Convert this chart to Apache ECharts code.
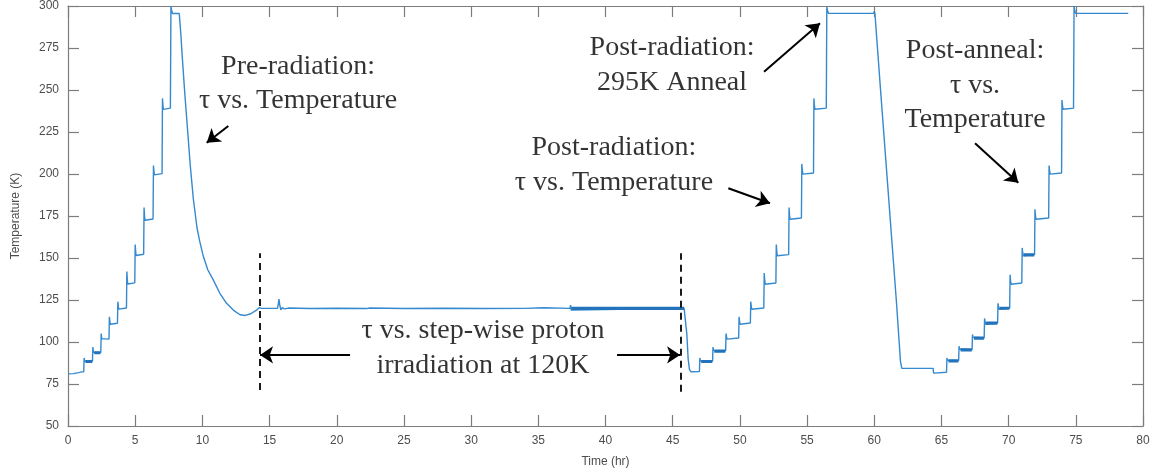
<!DOCTYPE html>
<html>
<head>
<meta charset="utf-8">
<title>Temperature (K) vs Time (hr)</title>
<script src="https://cdn.jsdelivr.net/npm/echarts@6/dist/echarts.min.js"></script>
<style>
  html, body { margin: 0; padding: 0; background: #ffffff; }
  #chart { width: 1158px; height: 473px; }
</style>
</head>
<body>
<div id="chart"></div>
<script>
// Cryostat temperature log, [time (hr), temperature (K)]

// Pre-radiation: tau vs. temperature steps, then cool-down to 120 K
const preRadiation = [
  [0.00, 81.0], [0.40, 81.2], [0.80, 81.8], [1.00, 82.2], [1.17, 82.3],
  [1.20, 90.5], [1.24, 88.6], [1.27, 87.9], [1.32, 88.3], [1.82, 88.5],
  [1.85, 97.0], [1.89, 94.0], [1.92, 93.2], [1.97, 93.5], [2.44, 93.8],
  [2.47, 105.0], [2.51, 102.0], [2.54, 101.0], [2.59, 101.5], [3.05, 101.7],
  [3.08, 115.0], [3.12, 112.0], [3.15, 110.6], [3.20, 111.0], [3.68, 111.2],
  [3.71, 124.0], [3.75, 121.0], [3.78, 119.6], [3.83, 120.0], [4.35, 120.2],
  [4.38, 142.0], [4.42, 136.5], [4.45, 134.5], [4.50, 135.0], [4.97, 135.2],
  [5.00, 158.0], [5.04, 153.5], [5.07, 151.5], [5.12, 152.0], [5.63, 152.2],
  [5.66, 180.0], [5.70, 174.5], [5.73, 172.5], [5.78, 173.0], [6.33, 173.2],
  [6.36, 205.0], [6.40, 201.5], [6.43, 199.5], [6.48, 200.0], [7.00, 200.2],
  [7.03, 245.0], [7.07, 240.5], [7.10, 238.5], [7.15, 239.0], [7.62, 239.2],
  [7.66, 300.0], [7.72, 297.0], [7.78, 295.5], [8.28, 295.5],
  [8.40, 283.0], [8.50, 270.0], [8.70, 247.0], [8.90, 226.0], [9.10, 205.0],
  [9.33, 185.0], [9.60, 168.0], [9.80, 160.0], [10.07, 151.0], [10.40, 143.0],
  [10.81, 137.0], [11.30, 129.0], [11.80, 123.0], [12.30, 119.0], [12.80, 116.2],
  [13.20, 115.8], [13.60, 116.8], [14.00, 118.8], [14.25, 120.5]
];

// Step-wise proton irradiation held at 120 K
const irradiation = [
  [14.40, 120.0], [15.60, 120.1], [15.70, 125.5], [15.76, 122.0], [15.84, 119.2],
  [15.95, 120.4], [16.10, 119.7], [16.40, 120.2], [18.00, 119.9], [20.00, 120.1],
  [22.20, 119.9], [22.27, 121.0], [22.33, 119.3], [22.45, 120.2], [25.00, 119.9],
  [28.00, 120.1], [31.00, 119.9], [34.00, 120.0], [35.40, 120.4], [35.45, 119.7],
  [37.35, 120.0], [37.40, 122.0], [37.45, 119.0], [45.85, 120.0], [45.95, 119.0],
  [46.05, 105.0], [46.15, 90.0], [46.25, 83.5], [46.35, 82.3]
];

// Post-radiation: tau vs. temperature steps up to the 295 K anneal
const postRadiation = [
  [46.99, 82.4],
  [47.02, 90.5], [47.06, 88.8], [47.10, 87.8], [47.15, 88.3], [47.97, 88.6],
  [48.00, 97.0], [48.04, 95.0], [48.08, 94.0], [48.13, 94.5], [48.94, 94.8],
  [48.97, 105.0], [49.01, 103.0], [49.05, 101.7], [49.10, 102.2], [49.91, 102.4],
  [49.94, 115.0], [49.98, 112.0], [50.02, 110.6], [50.07, 111.1], [50.78, 111.3],
  [50.81, 124.0], [50.85, 121.0], [50.89, 119.5], [50.94, 120.0], [51.78, 120.2],
  [51.81, 141.0], [51.85, 136.5], [51.89, 134.4], [51.94, 134.9], [52.68, 135.1],
  [52.71, 158.0], [52.75, 153.5], [52.79, 151.3], [52.84, 151.8], [53.63, 152.0],
  [53.66, 180.0], [53.70, 175.0], [53.74, 173.1], [53.79, 173.6], [54.58, 173.8],
  [54.61, 206.0], [54.65, 202.0], [54.69, 199.9], [54.74, 200.4], [55.48, 200.6],
  [55.51, 245.0], [55.55, 240.5], [55.59, 238.5], [55.64, 239.0], [56.43, 239.2],
  [56.47, 299.5], [56.53, 297.0], [56.60, 295.6]
];

// 295 K anneal and cool-down
const anneal = [
  [59.95, 295.6], [60.00, 296.8], [60.05, 295.6], [60.45, 252.0], [61.05, 188.0],
  [61.65, 124.0], [61.95, 88.5], [62.05, 84.3], [64.38, 84.3], [64.42, 81.5],
  [64.48, 82.2]
];

// Post-anneal: tau vs. temperature steps
const postAnneal = [
  [65.38, 82.0],
  [65.41, 90.5], [65.45, 89.2], [65.49, 88.2], [65.54, 88.7], [66.28, 88.9],
  [66.31, 97.5], [66.35, 95.8], [66.39, 94.7], [66.44, 95.2], [67.28, 95.4],
  [67.31, 104.5], [67.35, 102.8], [67.39, 101.7], [67.44, 102.2], [68.18, 102.4],
  [68.21, 114.0], [68.25, 112.0], [68.29, 110.6], [68.34, 111.1], [69.18, 111.3],
  [69.21, 123.0], [69.25, 121.0], [69.29, 119.5], [69.34, 120.0], [70.08, 120.2],
  [70.11, 140.0], [70.15, 136.0], [70.19, 134.4], [70.24, 134.9], [70.98, 135.1],
  [71.01, 156.0], [71.05, 153.0], [71.09, 151.3], [71.14, 151.8], [71.93, 152.0],
  [71.96, 179.0], [72.00, 175.0], [72.04, 173.1], [72.09, 173.6], [72.98, 173.8],
  [73.01, 205.0], [73.05, 202.0], [73.09, 199.9], [73.14, 200.4], [73.94, 200.6],
  [73.97, 244.0], [74.01, 240.5], [74.05, 238.5], [74.10, 239.0], [74.83, 239.2],
  [74.87, 300.0], [74.93, 297.0], [75.00, 295.6], [78.90, 295.6]
];

// Plateaus where the measurement noise thickens the trace: [start, end, K]
const noisyPlateaus = [
  [1.30, 1.80, 88.4], [1.95, 2.42, 93.6],
  [37.45, 45.85, 120.0],
  [47.12, 47.95, 88.4], [48.10, 48.92, 94.6],
  [65.52, 66.26, 88.8], [66.42, 67.26, 95.3], [67.42, 68.16, 102.3],
  [68.32, 69.16, 111.2], [69.32, 70.06, 120.1], [71.12, 71.91, 151.9]
];

// Axis ranges and ticks
const timeRange = [0, 80];
const timeStep = 5;
const tempRange = [50, 300];
const tempStep = 25;

// Annotations
const noteText = [
  'Pre-radiation:\nτ vs. Temperature',
  'Post-radiation:\n295K Anneal',
  'Post-radiation:\nτ vs. Temperature',
  'Post-anneal:\nτ vs.\nTemperature',
  'τ vs. step-wise proton\nirradiation at 120K'
];
const notePos = [[17.12, 253.7], [44.95, 264.9], [40.63, 205.4], [67.5, 252.6], [30.88, 96.4]];

// Arrows: [from, to] in [hr, K]
const arrows = [
  [[11.93, 228.6], [10.32, 218.6]],
  [[51.80, 260.9], [55.96, 289.7]],
  [[49.14, 191.5], [52.24, 182.6]],
  [[67.50, 218.3], [70.72, 194.8]],
  [[20.99, 92.3], [14.29, 92.3]],
  [[40.86, 92.3], [45.55, 92.3]]
];

// Dashed markers bounding the irradiation window: [hr, K bottom, K top]
const windowMarks = [[14.25, 71.4, 152.8], [45.6, 70.4, 152.8]];

const trace = [].concat(preRadiation, irradiation, postRadiation, anneal, postAnneal);

const noiseData = [];
noisyPlateaus.forEach(function (p) {
  noiseData.push([p[0], p[2]], [p[1], p[2]], [p[1], null]);
});

const axisGray = '#7c7c7c';
const labelGray = '#4d4d4d';
const sans = 'Liberation Sans, Arial, sans-serif';
const serif = 'Liberation Serif, Times New Roman, serif';

function valueAxis(range, step, pos, showLabels, name, nameGap) {
  return {
    type: 'value', position: pos, min: range[0], max: range[1], interval: step,
    axisLine: { show: true, onZero: false, lineStyle: { color: axisGray, width: 1.2 } },
    axisTick: { show: true, inside: true, length: 11, lineStyle: { color: axisGray, width: 1.2 } },
    axisLabel: { show: showLabels, color: labelGray, fontSize: 12, fontFamily: sans, margin: 9 },
    splitLine: { show: false },
    name: name || '', nameLocation: 'middle', nameGap: nameGap || 0,
    nameTextStyle: { color: labelGray, fontSize: 12, fontFamily: sans }
  };
}

const chart = echarts.init(document.getElementById('chart'), null, { renderer: 'canvas' });

chart.setOption({
  animation: false,
  backgroundColor: '#ffffff',
  grid: { left: 68, right: 15, top: 6, bottom: 47, containLabel: false },
  xAxis: [
    valueAxis(timeRange, timeStep, 'bottom', true, 'Time (hr)', 30),
    valueAxis(timeRange, timeStep, 'top', false)
  ],
  yAxis: [
    Object.assign(valueAxis(tempRange, tempStep, 'left', true, 'Temperature (K)', 46), { nameRotate: 90 }),
    valueAxis(tempRange, tempStep, 'right', false)
  ],
  series: [
    {
      name: 'Temperature',
      type: 'line',
      data: trace,
      showSymbol: false,
      symbol: 'none',
      lineStyle: { color: '#3489cf', width: 1.4 },
      clip: true,
      z: 3,
      markLine: {
        silent: true,
        symbol: ['none', 'arrow'],
        symbolSize: 13,
        label: { show: false },
        lineStyle: { color: '#000000', width: 2, type: 'solid' },
        data: arrows.map(function (a) {
          return [{ coord: a[0] }, { coord: a[1] }];
        })
      }
    },
    {
      name: 'Noise',
      type: 'line',
      data: noiseData,
      showSymbol: false,
      symbol: 'none',
      connectNulls: false,
      lineStyle: { color: '#2273bb', width: 3.2 },
      z: 4,
      markLine: {
        silent: true,
        symbol: ['none', 'none'],
        label: { show: false },
        lineStyle: { color: '#1a1a1a', width: 2, type: [7, 5] },
        data: windowMarks.map(function (m) {
          return [{ coord: [m[0], m[1]] }, { coord: [m[0], m[2]] }];
        })
      }
    },
    {
      name: 'Notes',
      type: 'scatter',
      symbolSize: 1,
      itemStyle: { color: 'rgba(0,0,0,0)' },
      silent: true,
      z: 5,
      label: {
        show: true,
        position: 'inside',
        color: '#000000',
        fontFamily: serif,
        fontSize: 28,
        lineHeight: 34.5,
        align: 'center',
        verticalAlign: 'middle',
        formatter: function (p) { return noteText[p.dataIndex]; }
      },
      data: notePos
    }
  ]
});
</script>
</body>
</html>
